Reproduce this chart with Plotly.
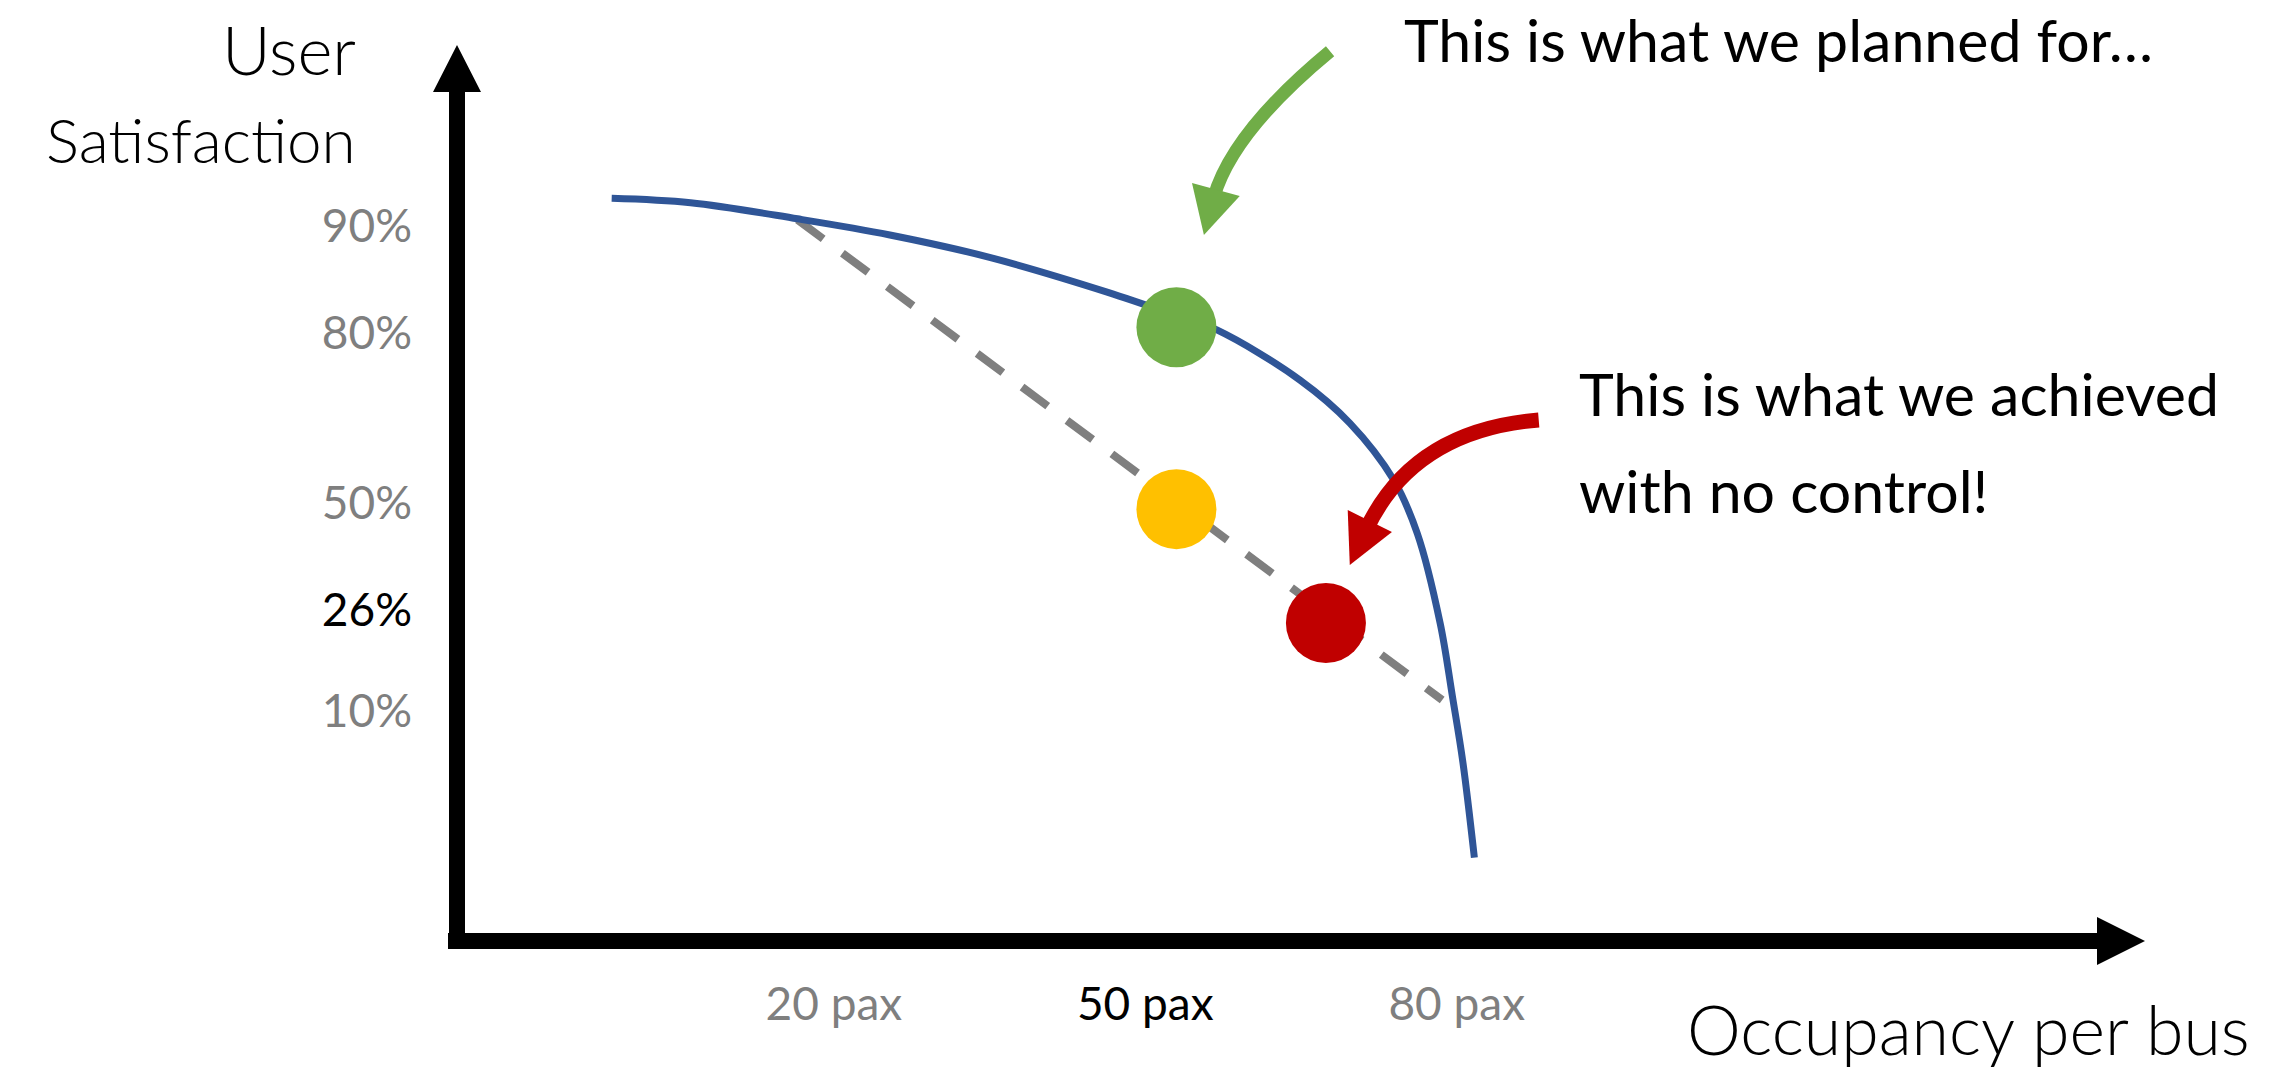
import plotly.graph_objects as go

FONT = "Lato, 'Open Sans', sans-serif"
GREY = "#7F7F7F"

# Schematic axes: occupancy in passengers per bus, satisfaction on a relative 0-100 height scale
occupancy_ticks = [20, 50, 80]
occupancy_labels = ["20 pax", "50 pax", "80 pax"]
occupancy_highlight = [False, True, False]

satisfaction_ticks = [79.8, 67.9, 48.9, 37.0, 25.7]
satisfaction_labels = ["90%", "80%", "50%", "26%", "10%"]
satisfaction_highlight = [False, False, False, True, False]

# Capacity curve: satisfaction as occupancy grows
curve_occupancy = [-1.4, 6.2, 16.5, 25.4, 35.0, 46.4, 53.0, 56.9, 64.9, 69.7, 73.9, 76.2, 78.4, 79.6, 80.6, 81.7]
curve_satisfaction = [82.9, 82.4, 80.6, 78.8, 76.3, 72.4, 69.8, 68.2, 62.6, 57.8, 51.5, 45.5, 35.5, 27.2, 19.9, 9.3]

# Degradation trend without control
trend_occupancy = [16.5, 78.6]
trend_satisfaction = [80.5, 26.9]

# Operating points
point_names = ["Planned", "Intermediate", "No control"]
point_occupancy = [53.0, 53.0, 67.4]
point_satisfaction = [68.5, 48.2, 35.5]
point_colors = ["#70AD47", "#FFC000", "#C00000"]

X_RANGE = [-16.3, 146.3]
Y_RANGE = [0, 100]


def tick_text(labels, highlight):
    return [f"<span style='color:#000000'>{t}</span>" if h else t
            for t, h in zip(labels, highlight)]


fig = go.Figure()

fig.add_trace(go.Scatter(
    x=trend_occupancy, y=trend_satisfaction, mode="lines",
    line=dict(color=GREY, width=8, dash="32px,24px"),
    hoverinfo="skip", showlegend=False))

fig.add_trace(go.Scatter(
    x=curve_occupancy, y=curve_satisfaction, mode="lines",
    line=dict(color="#2F5597", width=7, shape="spline", smoothing=1.0),
    hoverinfo="skip", showlegend=False))

fig.add_trace(go.Scatter(
    x=point_occupancy, y=point_satisfaction, mode="markers",
    marker=dict(size=80, color=point_colors, line=dict(width=0)),
    text=point_names, hoverinfo="text", showlegend=False))

shapes = []

# Axis arrows (drawn in pixels from the plot origin)
shapes.append(dict(
    type="path", xref="paper", yref="paper", xsizemode="pixel", ysizemode="pixel",
    xanchor=0, yanchor=0,
    path="M -9,8 L 1640,8 L 1640,24 L 1688,0 L 1640,-24 L 1640,-8 L -9,-8 Z",
    fillcolor="#000000", line=dict(width=0), layer="above"))
shapes.append(dict(
    type="path", xref="paper", yref="paper", xsizemode="pixel", ysizemode="pixel",
    xanchor=0, yanchor=0,
    path="M -8,-8 L -8,849 L -24,849 L 0,896 L 24,849 L 8,849 L 8,-8 Z",
    fillcolor="#000000", line=dict(width=0), layer="above"))

# Curved callout arrows
callouts = [
    # (colour, shaft start, control, shaft end, head tip, head corner 1, head corner 2, shaft width)
    ("#70AD47", (67.8, 99.3), (58.4, 90.3), (56.6, 83.0), (55.65, 78.8), (54.5, 84.6), (59.1, 83.15), 13),
    ("#C00000", (87.9, 58.15), (75.8, 57.0), (71.3, 45.95), (69.7, 41.96), (69.5, 48.1), (73.76, 45.65), 15),
]
for color, p0, c, p1, tip, b1, b2, w in callouts:
    shapes.append(dict(
        type="path", xref="x", yref="y",
        path=f"M {p0[0]},{p0[1]} Q {c[0]},{c[1]} {p1[0]},{p1[1]}",
        line=dict(color=color, width=w), fillcolor="rgba(0,0,0,0)", layer="above"))
    shapes.append(dict(
        type="path", xref="x", yref="y",
        path=f"M {tip[0]},{tip[1]} L {b1[0]},{b1[1]} L {b2[0]},{b2[1]} Z",
        fillcolor=color, line=dict(width=0), layer="above"))


def label(text, x, y, xanchor, size, weight=400):
    return dict(text=text, x=x, y=y, xref="paper", yref="paper",
                xanchor=xanchor, yanchor="middle", align=xanchor, showarrow=False,
                font=dict(family=FONT, size=size, color="#000000", weight=weight))


annotations = [
    label("User", -0.0586, 0.9955, "right", 67, 300),
    label("Satisfaction", -0.0586, 0.8951, "right", 62, 300),
    label("Occupancy per bus", 1.0634, -0.0971, "right", 68, 300),
    label("This is what we planned for…", 0.5598, 1.0060, "left", 59),
    label("This is what we achieved", 0.6635, 0.6105, "left", 59),
    label("with no control!", 0.6635, 0.5033, "left", 59),
]

fig.update_layout(
    width=2285, height=1071, autosize=False,
    margin=dict(l=457, r=140, t=45, b=130, pad=0),
    paper_bgcolor="#FFFFFF", plot_bgcolor="#FFFFFF",
    shapes=shapes, annotations=annotations, showlegend=False,
    xaxis=dict(range=X_RANGE, showgrid=False, zeroline=False, showline=False,
               tickmode="array", tickvals=occupancy_ticks,
               ticktext=tick_text(occupancy_labels, occupancy_highlight),
               ticks="", ticklabelstandoff=32, automargin=False,
               tickfont=dict(family=FONT, size=46, color=GREY), fixedrange=True),
    yaxis=dict(range=Y_RANGE, showgrid=False, zeroline=False, showline=False,
               tickmode="array", tickvals=satisfaction_ticks,
               ticktext=tick_text(satisfaction_labels, satisfaction_highlight),
               ticks="", ticklabelstandoff=44, automargin=False,
               tickfont=dict(family=FONT, size=46, color=GREY), fixedrange=True),
)

fig.write_html("out.html", config={"displayModeBar": False})
